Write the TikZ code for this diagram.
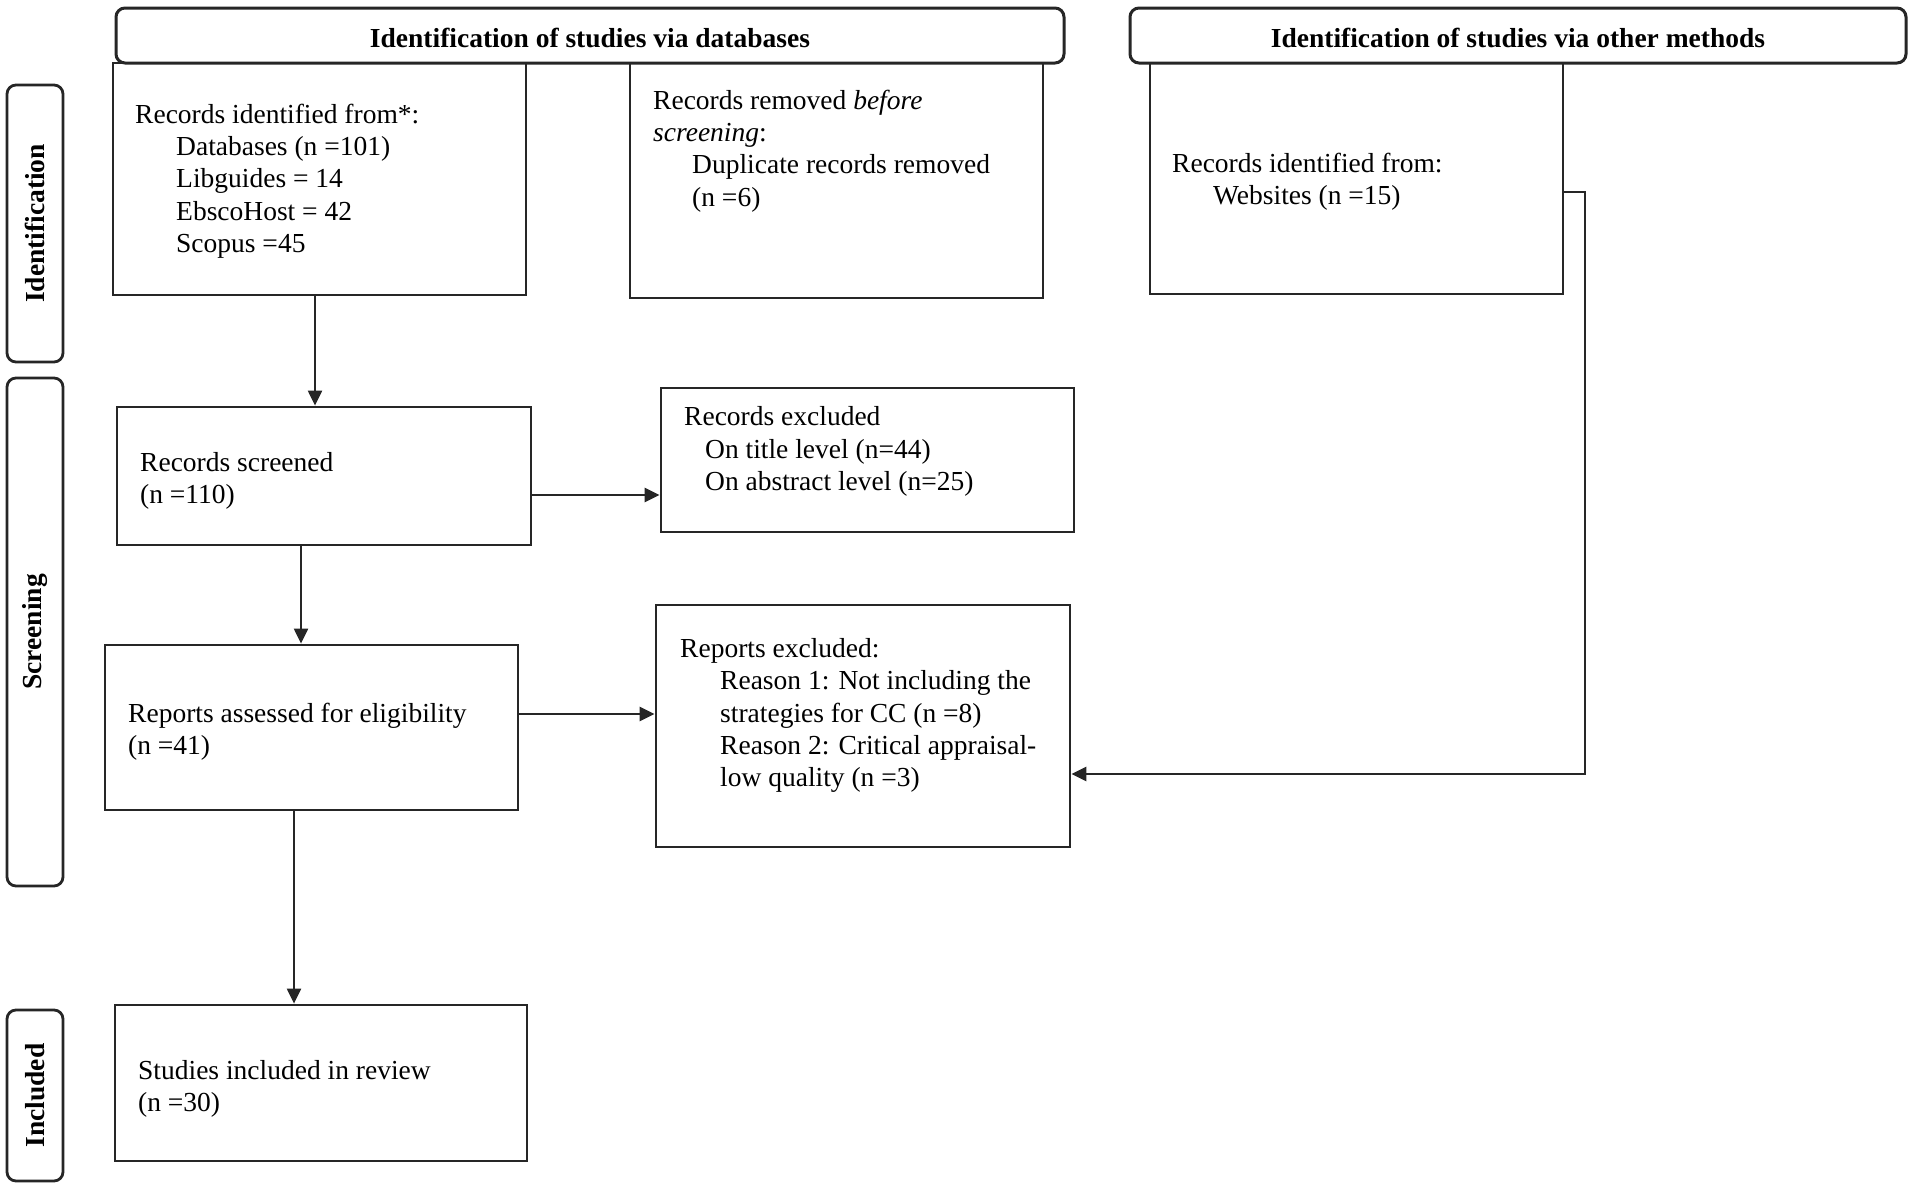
\documentclass[tikz,border=0pt]{standalone}
\usepackage{fontspec}
\setmainfont{Liberation Serif}
\usetikzlibrary{arrows.meta,calc}
\begin{document}
\begin{tikzpicture}[x=1pt,y=-1pt,
  box/.style={draw=black!85, line width=2.8pt, rectangle, inner sep=0pt},
  hdr/.style={draw=black!85, line width=3pt, rounded corners=9pt, inner sep=0pt},
  hdrtxt/.style={inner sep=0pt, font=\bfseries\fontsize{27.5}{32}\selectfont},
  sidebox/.style={draw=black!85, line width=2.8pt, rounded corners=9pt, inner sep=0pt, minimum width=56pt},
  sidetxt/.style={rotate=90, inner sep=0pt, font=\bfseries\fontsize{27.5}{30}\selectfont},
  txt/.style={align=left, anchor=west, inner sep=0pt, yshift=-3.5pt, font=\fontsize{27.5}{32.3}\selectfont},
  arr/.style={draw=black!85, line width=2.2pt, -{Triangle[length=15pt,width=14pt]}}]
\useasboundingbox[fill=white] (0,0) rectangle (1913,1189);

% headers
\node[hdr, minimum width=948pt, minimum height=55pt] (H1) at (590,35.5) {};
\node[hdrtxt] (H1t) at ([yshift=-2.5pt]H1.center) {Identification of studies via databases};
\node[hdr, minimum width=776pt, minimum height=55pt] (H2) at (1518,35.5) {};
\node[hdrtxt] (H2t) at ([yshift=-2.5pt]H2.center) {Identification of studies via other methods};

% side labels
\node[sidebox, minimum height=277pt] (S1) at (35,223.5) {};
\node[sidetxt] (S1t) at (S1.center) {Identification};
\node[sidebox, minimum height=508pt] (S2) at (35,632) {};
\node[sidetxt] (S2t) at (S2.center) {Screening};
\node[sidebox, minimum height=171pt] (S3) at (35,1095.5) {};
\node[sidetxt] (S3t) at (S3.center) {Included};

% boxes
\node[box, minimum width=413pt, minimum height=232pt] (A) at (319.5,179) {};
\node[box, minimum width=413pt, minimum height=235pt] (B) at (836.5,180.5) {};
\node[box, minimum width=413pt, minimum height=231pt] (W) at (1356.5,178.5) {};
\node[box, minimum width=414pt, minimum height=138pt] (scr) at (324,476) {};
\node[box, minimum width=413pt, minimum height=144pt] (ex1) at (867.5,460) {};
\node[box, minimum width=413pt, minimum height=165pt] (rep) at (311.5,727.5) {};
\node[box, minimum width=414pt, minimum height=242pt] (ex2) at (863,726) {};
\node[box, minimum width=412pt, minimum height=156pt] (inc) at (321,1083) {};

% texts
\node[txt] (At) at (135,177.5) {Records identified from*:\\
\hspace*{41pt}Databases (n =101)\\
\hspace*{41pt}Libguides = 14\\
\hspace*{41pt}EbscoHost = 42\\
\hspace*{41pt}Scopus =45};
\node[txt] (Bt) at (653,147.5) {Records removed \textit{before}\\
\textit{screening}:\\
\hspace*{39pt}Duplicate records removed\\
\hspace*{39pt}(n =6)};
\node[txt] (Wt) at (1172,178.5) {Records identified from:\\
\hspace*{41pt}Websites (n =15)};
\node[txt] (scrt) at (140,477.5) {Records screened\\(n =110)};
\node[txt] (ex1t) at (684,448) {Records excluded\\
\hspace*{21pt}On title level (n=44)\\
\hspace*{21pt}On abstract level (n=25)};
\node[txt] (rept) at (128,728.5) {Reports assessed for eligibility\\(n =41)};
\node[txt] (ex2t) at (680,712) {Reports excluded:\\
\hspace*{40pt}Reason 1: Not including the\\
\hspace*{40pt}strategies for CC (n =8)\\
\hspace*{40pt}Reason 2: Critical appraisal-\\
\hspace*{40pt}low quality (n =3)};
\node[txt] (inct) at (138,1085.5) {Studies included in review\\(n =30)};

% connectors
\draw[arr] ([xshift=-4.5pt]A.south) -- ([xshift=-4.5pt]A.south |- scr.north);
\draw[arr] ([xshift=-23pt]scr.south) -- ([xshift=-23pt]scr.south |- rep.north);
\draw[arr] ([xshift=-17.5pt]rep.south) -- ([xshift=-17.5pt]rep.south |- inc.north);
\draw[arr, line width=2.8pt] ([yshift=-19pt]scr.east) -- ([yshift=-19pt]scr.east -| ex1.west);
\draw[arr, line width=2.8pt] ([yshift=13.5pt]rep.east) -- ([yshift=13.5pt]rep.east -| ex2.west);
\coordinate (c2) at (1585,774);
\draw[arr, line width=2.6pt] ([yshift=-13.5pt]W.east) -| (c2) -- (c2 -| ex2.east);
\end{tikzpicture}
\end{document}
